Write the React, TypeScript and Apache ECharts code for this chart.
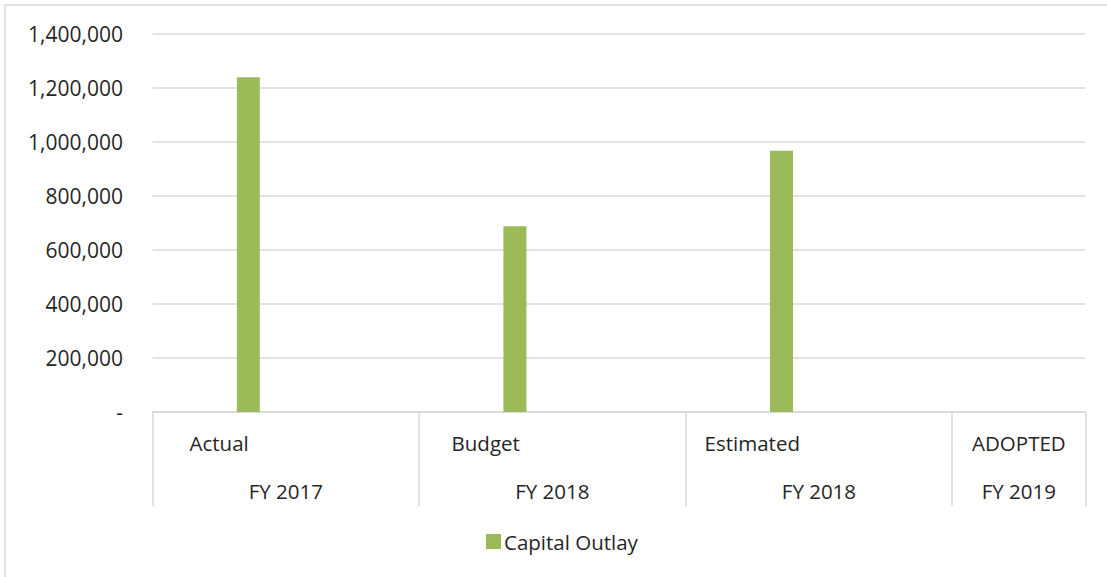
import React, { useEffect, useRef } from "react";
import * as echarts from "echarts";

const typeLabels = ["Actual", "Budget", "Estimated", "ADOPTED"];
const yearLabels = ["FY 2017", "FY 2018", "FY 2018", "FY 2019"];
const groupSpans = [2, 2, 2, 1];
const capitalOutlay = [1240000, 688000, 968000, null];
const seriesName = "Capital Outlay";
const yTicks = { min: 0, max: 1400000, interval: 200000 };

const FONT = "'Open Sans', sans-serif";
const TEXT = "#262626";
const GRID = "#d9d9d9";

export default function App() {
  const ref = useRef<HTMLDivElement>(null);
  useEffect(() => {
    document.body.style.margin = "0";
    if (!ref.current) return;
    const chart = echarts.init(ref.current, undefined, { renderer: "svg" });

    // build slot-based category list from groups
    const slotCats: string[] = [];
    const slotValues: (number | null)[] = [];
    const yearPos: Record<string, string> = {};
    let start = 0;
    typeLabels.forEach((t, i) => {
      for (let k = 0; k < groupSpans[i]; k++) {
        slotCats.push(k === 0 ? t : "");
        slotValues.push(k === 0 ? capitalOutlay[i] : null);
      }
      yearPos[String(start + groupSpans[i] / 2)] = yearLabels[i];
      start += groupSpans[i];
    });
    const totalSlots = start;

    chart.setOption({
      animation: false,
      textStyle: { fontFamily: FONT },
      graphic: [
        {
          type: "rect",
          silent: true,
          shape: { x: 5, y: 5, width: 1110, height: 580 },
          style: { fill: "none", stroke: GRID, lineWidth: 1.5 },
        },
      ],
      grid: { left: 152.5, right: 21.5, top: 34, bottom: 165, containLabel: false },
      legend: {
        data: [seriesName],
        left: 486,
        top: 531,
        padding: 0,
        icon: "rect",
        itemWidth: 15,
        itemHeight: 15,
        itemGap: 10,
        textStyle: { fontFamily: FONT, fontSize: 20.5, color: TEXT, lineHeight: 21, padding: [0, 0, 0, -2] },
      },
      xAxis: [
        {
          type: "category",
          data: slotCats,
          boundaryGap: true,
          axisLine: { show: true, lineStyle: { color: GRID, width: 1.5 } },
          axisTick: {
            show: true,
            length: 94,
            lineStyle: { color: GRID, width: 1.5 },
            interval: (idx: number, val: string) => val !== "",
          },
          axisLabel: {
            interval: 0,
            margin: 20,
            fontFamily: FONT,
            fontSize: 20.5,
            lineHeight: 21,
            color: TEXT,
          },
          splitLine: { show: false },
        },
        {
          type: "value",
          min: 0,
          max: totalSlots,
          interval: 0.5,
          position: "bottom",
          axisLine: { show: false },
          axisTick: { show: false },
          splitLine: { show: false },
          axisLabel: {
            margin: 68,
            fontFamily: FONT,
            fontSize: 20.5,
            lineHeight: 21,
            color: TEXT,
            showMinLabel: true,
            showMaxLabel: true,
            formatter: (v: number) => yearPos[String(v)] || "",
          },
        },
      ],
      yAxis: {
        type: "value",
        min: yTicks.min,
        max: yTicks.max,
        interval: yTicks.interval,
        axisLine: { show: false },
        axisTick: { show: false },
        splitLine: { lineStyle: { color: GRID, width: 1.5 } },
        axisLabel: {
          margin: 29.5,
          fontFamily: FONT,
          fontSize: 21,
          color: TEXT,
          formatter: (v: number) => (v === 0 ? "-" : v.toLocaleString("en-US")),
        },
      },
      series: [
        {
          name: "spacer",
          type: "bar",
          xAxisIndex: 0,
          data: [],
          barWidth: 23,
          barGap: "154%",
        },
        {
          name: seriesName,
          type: "bar",
          xAxisIndex: 0,
          data: slotValues,
          barWidth: 23,
          barGap: "154%",
          itemStyle: { color: "#9bbb59" },
        },
      ],
    });
    return () => chart.dispose();
  }, []);
  return <div ref={ref} style={{ width: 1107, height: 577 }} />;
}
